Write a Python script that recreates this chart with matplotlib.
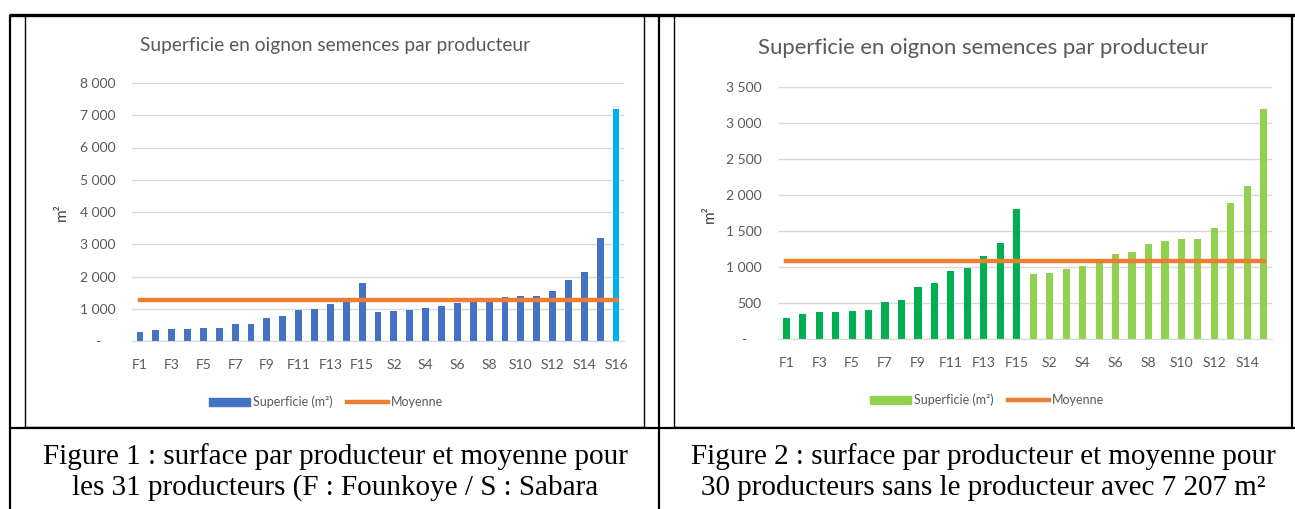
import numpy as np
import matplotlib.pyplot as plt
from matplotlib.lines import Line2D
from matplotlib.patches import Patch
from matplotlib.ticker import FuncFormatter

# surface (m2) per producer, F = Founkoye, S = Sabara
founkoye = ["F%d" % i for i in range(1, 16)]
sabara = ["S%d" % i for i in range(1, 17)]
surface_f = [290, 350, 375, 375, 390, 400, 515, 540, 720, 780, 950, 985, 1150, 1340, 1810]
surface_s = [905, 920, 970, 1020, 1075, 1185, 1210, 1325, 1365, 1390, 1390, 1545, 1885, 2130, 3190, 7207]

title = "Superficie en oignon semences par producteur"
caption1 = ["Figure 1 : surface par producteur et moyenne pour",
            "les 31 producteurs (F : Founkoye / S : Sabara"]
caption2 = ["Figure 2 : surface par producteur et moyenne pour",
            "30 producteurs sans le producteur avec 7 207 m\u00b2"]

BLUE = "#4472C4"
CYAN = "#00B0F0"
GREEN = "#00B050"
LGREEN = "#92D050"
ORANGE = "#ED7D31"
GREY = "#595959"

plt.rcParams["font.family"] = ["Lato", "DejaVu Sans"]

W, H = 1295, 509
fig = plt.figure(figsize=(W / 100, H / 100), dpi=100)


def fx(px):
    return px / W


def fy(py):
    return 1 - py / H


def fmt(v, pos):
    if v == 0:
        return "-    "
    return "{:,}".format(int(v)).replace(",", " ")


def draw_chart(rect, cats, vals, colors, ymax, ystep, legend_color, title_pos, title_size, ylab_pos, leg_pos):
    ax = fig.add_axes(rect)
    x = np.arange(len(cats))
    ax.bar(x, vals, width=0.43, color=colors, zorder=2)
    mean = np.mean(vals)
    ax.plot([x[0], x[-1]], [mean, mean], color=ORANGE, lw=3.2, zorder=3)
    ax.set_xlim(-0.5, len(cats) - 0.5)
    ax.set_ylim(0, ymax)
    ax.set_yticks(np.arange(0, ymax + 1, ystep))
    ax.yaxis.set_major_formatter(FuncFormatter(fmt))
    ax.set_xticks(x[::2])
    ax.set_xticklabels(cats[::2])
    ax.grid(axis="y", color="#D9D9D9", lw=1, zorder=0)
    for s in ["top", "right", "left"]:
        ax.spines[s].set_visible(False)
    ax.spines["bottom"].set_color("#D9D9D9")
    ax.tick_params(length=0, labelsize=10, colors=GREY)
    ax.tick_params(axis="x", pad=13)
    ax.tick_params(axis="y", pad=12)
    fig.text(fx(title_pos[0]), fy(title_pos[1]), title, ha="center", va="center",
             fontsize=title_size, color=GREY)
    fig.text(fx(ylab_pos[0]), fy(ylab_pos[1]), "m\u00b2", ha="center", va="center",
             rotation=90, fontsize=11, color="#404040")
    handles = [Patch(color=legend_color), Line2D([], [], color=ORANGE, lw=3.2)]
    fig.legend(handles, ["Superficie (m\u00b2)", "Moyenne"], loc="center",
               bbox_to_anchor=(fx(leg_pos[0]), fy(leg_pos[1])), ncol=2, frameon=False,
               fontsize=9, labelcolor=GREY, handlelength=3.3, handleheight=0.7,
               columnspacing=1.2, handletextpad=0.2)
    return ax


# chart 1 : all 31 producers, the largest one highlighted
cats1 = founkoye + sabara
vals1 = surface_f + surface_s
cols1 = [BLUE] * (len(vals1) - 1) + [CYAN]
draw_chart([fx(132), fy(341), fx(624) - fx(132), fy(83) - fy(341)], cats1, vals1, cols1,
           8000, 1000, BLUE, (335, 46), 13.8, (62, 212), (326, 402))

# chart 2 : without the 7 207 m2 producer
cats2 = founkoye + sabara[:15]
vals2 = surface_f + surface_s[:15]
cols2 = [GREEN] * len(surface_f) + [LGREEN] * 15
draw_chart([fx(778), fy(339), fx(1272) - fx(778), fy(87) - fy(339)], cats2, vals2, cols2,
           3500, 500, LGREEN, (983, 48), 15.9, (710, 214), (987, 400))


# table borders and chart frames
def hline(y, x0, x1, lw):
    fig.add_artist(Line2D([fx(x0), fx(x1)], [fy(y), fy(y)], color="black", lw=lw,
                          transform=fig.transFigure, solid_capstyle="butt"))


def vline(x, y0, y1, lw):
    fig.add_artist(Line2D([fx(x), fx(x)], [fy(y0), fy(y1)], color="black", lw=lw,
                          transform=fig.transFigure, solid_capstyle="butt"))


hline(15, 9, 1295, 2.4)
hline(428, 9, 1295, 1.6)
vline(10, 15, 509, 1.6)
vline(659, 15, 509, 1.6)
vline(24.5, 15, 427, 1.0)
vline(643.5, 15, 427, 1.0)
hline(426.5, 24, 644, 1.0)
vline(673.5, 15, 427, 1.0)
vline(1292, 15, 427, 1.6)
hline(426.5, 673, 1292, 1.0)

for cx, cap in [(335, caption1), (983, caption2)]:
    for line, cy in zip(cap, [457, 488]):
        fig.text(fx(cx), fy(cy), line, ha="center", va="center", fontsize=21,
                 family=["Liberation Serif", "DejaVu Serif"])

fig.savefig("out.png", dpi=100)
